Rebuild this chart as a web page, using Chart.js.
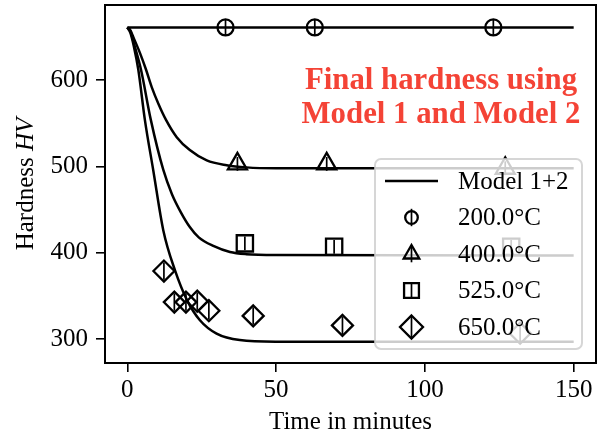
<!DOCTYPE html>
<html><head><meta charset="utf-8">
<script src="https://cdn.jsdelivr.net/npm/chart.js@4/dist/chart.umd.min.js"></script>
<style>html,body{margin:0;padding:0;background:#fff}</style>
</head><body><canvas id="c" width="602" height="436"></canvas>
<script>
// ---- data ----
const xTicks = [0, 50, 100, 150];
const yTicks = [300, 400, 500, 600];

// Model 1+2 curves (time in minutes, hardness HV)
const m200T = [0, 150];
const m200H = [661, 661];
const m400T = [0, 1, 2, 4.3, 6.3, 8.2, 10.4, 13, 16.6, 21, 26.7, 33.4, 40, 50, 150];
const m400H = [661, 658, 650, 631, 612, 592, 573, 554, 534, 519, 507, 501.5, 499, 498, 498];
const m525T = [0, 1, 2.5, 4.6, 7.9, 12.1, 15, 18, 21, 24, 28.9, 34.5, 40, 50, 150];
const m525H = [661, 657, 639, 612, 554, 496, 468, 447, 430, 418, 408, 401, 398.5, 397.5, 397];
const m650T = [0, 1, 2.2, 3.7, 5.9, 8.7, 12.1, 16, 20.1, 24.4, 30, 37.8, 50, 150];
const m650H = [661, 655, 639, 612, 554, 496, 426, 380, 345, 322, 306.5, 299, 297.2, 297];

// Measurements
const labels = ['Model 1+2', '200.0°C', '400.0°C', '525.0°C', '650.0°C'];
const p200T = [33, 63, 123];
const p200H = [661, 661, 661];
const p200E = [9, 9, 9];
const p400T = [37, 67, 127];
const p400H = [503, 503, 498];
const p400E = [8, 8, 8];
const p525T = [39.5, 69.5, 129];
const p525H = [411, 407, 407];
const p525E = [8, 8, 8];
const p650T = [12.3, 15.8, 19.7, 23.5, 27.4, 42.3, 72.3, 132];
const p650H = [379, 343, 343, 344, 333, 327, 316, 307];
const p650E = [10, 10, 10, 10, 10, 10, 10, 10];

const FONT = '"Liberation Serif", "Times New Roman", serif';
const zip = (t, h) => t.map((v, i) => ({x: v, y: h[i]}));

function modelDs(t, h) {
  return {type: 'scatter', showLine: true, data: zip(t, h), borderColor: '#000', borderWidth: 2.5,
    pointRadius: 0, pointHoverRadius: 0, cubicInterpolationMode: 'monotone', fill: false, order: 2};
}
function markDs(label, t, h, e, style, r) {
  return {type: 'scatter', label, data: zip(t, h), errs: e, showLine: false, pointStyle: style,
    pointRadius: r, pointHoverRadius: r, borderColor: '#000', borderWidth: 2.3,
    backgroundColor: 'rgba(0,0,0,0)', order: 1};
}

const datasets = [
  modelDs(m200T, m200H), modelDs(m400T, m400H), modelDs(m525T, m525H), modelDs(m650T, m650H),
  markDs(labels[1], p200T, p200H, p200E, 'circle', 8),
  markDs(labels[2], p400T, p400H, p400E, 'triangle', 11),
  markDs(labels[3], p525T, p525H, p525E, 'rect', 11.5),
  markDs(labels[4], p650T, p650H, p650E, 'rectRot', 10.5)
];

function drawMarker(ctx, style, x, y, r) {
  ctx.beginPath();
  if (style === 'circle') { ctx.arc(x, y, r, 0, Math.PI * 2); }
  else if (style === 'triangle') {
    for (let k = 0; k < 3; k++) {
      const a = k * 2 * Math.PI / 3;
      const px = x + Math.sin(a) * r, py = y - Math.cos(a) * r;
      k ? ctx.lineTo(px, py) : ctx.moveTo(px, py);
    }
    ctx.closePath();
  } else if (style === 'rect') {
    const s = r / Math.SQRT2; ctx.rect(x - s, y - s, 2 * s, 2 * s);
  } else if (style === 'rectRot') {
    ctx.moveTo(x, y - r); ctx.lineTo(x + r, y); ctx.lineTo(x, y + r); ctx.lineTo(x - r, y); ctx.closePath();
  }
  ctx.stroke();
}

const extras = {
  id: 'extras',
  afterDatasetsDraw(chart) {
    const ctx = chart.ctx, xs = chart.scales.x, ys = chart.scales.y, ca = chart.chartArea;
    ctx.save();
    ctx.beginPath(); ctx.rect(ca.left, ca.top, ca.right - ca.left, ca.bottom - ca.top); ctx.clip();
    ctx.strokeStyle = '#000'; ctx.lineWidth = 1.7;
    chart.data.datasets.forEach(ds => {
      if (!ds.errs) return;
      ds.data.forEach((p, i) => {
        const px = xs.getPixelForValue(p.x);
        ctx.beginPath();
        ctx.moveTo(px, ys.getPixelForValue(p.y - ds.errs[i]));
        ctx.lineTo(px, ys.getPixelForValue(p.y + ds.errs[i]));
        ctx.stroke();
      });
    });
    ctx.restore();
  },
  afterDraw(chart) {
    const ctx = chart.ctx, ca = chart.chartArea;
    ctx.save();
    // frame
    ctx.strokeStyle = '#000'; ctx.lineWidth = 2;
    ctx.strokeRect(ca.left, ca.top, ca.right - ca.left, ca.bottom - ca.top);
    // annotation
    ctx.fillStyle = '#F44336'; ctx.font = 'bold 30.8px ' + FONT; ctx.textAlign = 'center'; ctx.textBaseline = 'alphabetic';
    ctx.fillText('Final hardness using', 441, 89);
    ctx.fillText('Model 1 and Model 2', 441, 123);
    // axis titles
    ctx.fillStyle = '#000'; ctx.font = '25px ' + FONT;
    ctx.fillText('Time in minutes', (ca.left + ca.right) / 2, 429);
    ctx.save();
    ctx.translate(33, (ca.top + ca.bottom) / 2); ctx.rotate(-Math.PI / 2);
    const a = 'Hardness ', b = 'HV';
    ctx.font = '25px ' + FONT; const wa = ctx.measureText(a).width;
    ctx.font = 'italic 25px ' + FONT; const wb = ctx.measureText(b).width;
    ctx.textAlign = 'left';
    ctx.font = '25px ' + FONT; ctx.fillText(a, -(wa + wb) / 2, 0);
    ctx.font = 'italic 25px ' + FONT; ctx.fillText(b, -(wa + wb) / 2 + wa, 0);
    ctx.restore();
    // legend
    const lx = 375, ly = 159, lw = 207, lh = 190, rr = 6;
    ctx.beginPath();
    ctx.moveTo(lx + rr, ly); ctx.lineTo(lx + lw - rr, ly); ctx.arcTo(lx + lw, ly, lx + lw, ly + rr, rr);
    ctx.lineTo(lx + lw, ly + lh - rr); ctx.arcTo(lx + lw, ly + lh, lx + lw - rr, ly + lh, rr);
    ctx.lineTo(lx + rr, ly + lh); ctx.arcTo(lx, ly + lh, lx, ly + lh - rr, rr);
    ctx.lineTo(lx, ly + rr); ctx.arcTo(lx, ly, lx + rr, ly, rr); ctx.closePath();
    ctx.fillStyle = 'rgba(255,255,255,0.8)'; ctx.fill();
    ctx.strokeStyle = 'rgba(204,204,204,0.8)'; ctx.lineWidth = 2; ctx.stroke();
    const rowY = i => 181 + i * 36.5;
    ctx.strokeStyle = '#000'; ctx.lineWidth = 2.5;
    ctx.beginPath(); ctx.moveTo(385, rowY(0)); ctx.lineTo(438, rowY(0)); ctx.stroke();
    const ls = [['circle', 6.3, 8.7], ['triangle', 9, 8.3], ['rect', 10.5, 8.3], ['rectRot', 11.5, 10]];
    ls.forEach((s, i) => {
      const y = rowY(i + 1);
      ctx.lineWidth = 2.3; drawMarker(ctx, s[0], 411.5, y, s[1]);
      ctx.lineWidth = 1.7; ctx.beginPath(); ctx.moveTo(411.5, y - s[2]); ctx.lineTo(411.5, y + s[2]); ctx.stroke();
    });
    ctx.fillStyle = '#000'; ctx.font = '25px ' + FONT; ctx.textAlign = 'left'; ctx.textBaseline = 'middle';
    labels.forEach((t, i) => ctx.fillText(t, 458, rowY(i) + 1));
    ctx.restore();
  }
};

Chart.defaults.font.family = FONT;
Chart.defaults.font.size = 25;
Chart.defaults.color = '#000';

new Chart(document.getElementById('c'), {
  type: 'scatter',
  data: {datasets},
  options: {
    responsive: false, animation: false, devicePixelRatio: 1,
    layout: {padding: {top: 5, right: 6, left: 0, bottom: 0}, autoPadding: false},
    plugins: {legend: {display: false}, tooltip: {enabled: false}},
    events: [],
    scales: {
      x: {
        type: 'linear', min: -7.5, max: 157.5,
        afterBuildTicks: s => { s.ticks = xTicks.map(v => ({value: v})); },
        afterFit: s => { s.height = 73; s.paddingLeft = 0; s.paddingRight = 0; },
        ticks: {font: {size: 25}, color: '#000', padding: 3, maxRotation: 0, callback: v => String(v)},
        grid: {drawOnChartArea: false, drawTicks: true, tickLength: 9, color: '#000', lineWidth: 1.6},
        border: {display: true, color: '#000', width: 2}
      },
      y: {
        type: 'linear', min: 272.5, max: 687,
        afterBuildTicks: s => { s.ticks = yTicks.map(v => ({value: v})); },
        afterFit: s => { s.width = 105; s.paddingTop = 0; s.paddingBottom = 0; },
        ticks: {font: {size: 25}, color: '#000', padding: 8, callback: v => String(v)},
        grid: {drawOnChartArea: false, drawTicks: true, tickLength: 9, color: '#000', lineWidth: 1.6},
        border: {display: true, color: '#000', width: 2}
      }
    }
  },
  plugins: [extras]
});
</script></body></html>
